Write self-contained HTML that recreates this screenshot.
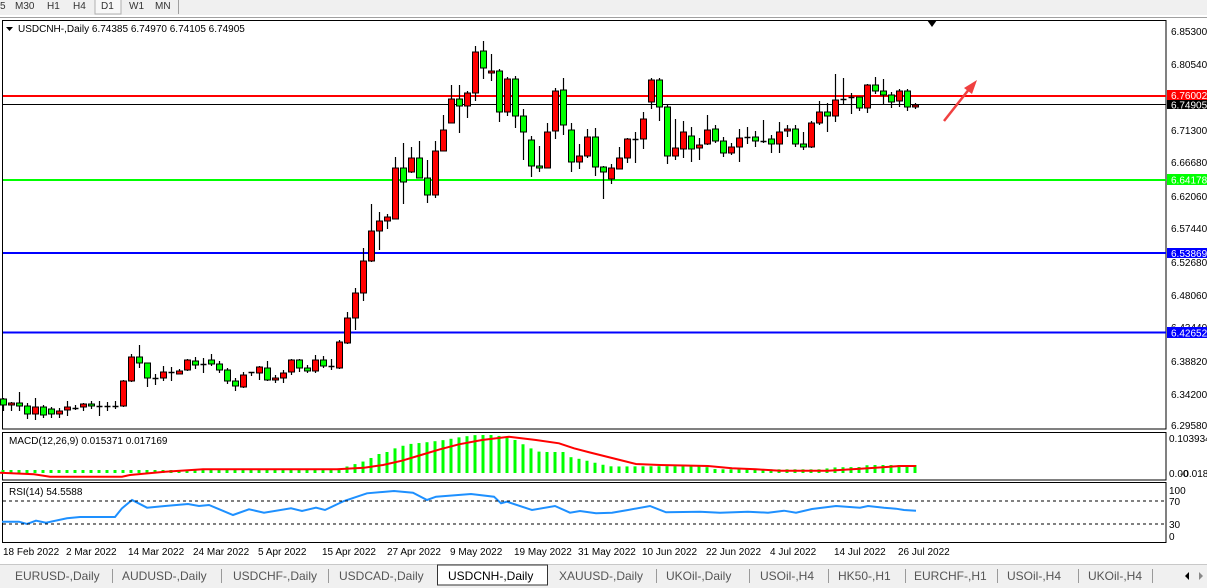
<!DOCTYPE html>
<html><head><meta charset="utf-8"><style>
html,body{margin:0;padding:0;background:#fff;width:1207px;height:588px;overflow:hidden}
svg{display:block;font-family:"Liberation Sans",sans-serif}
</style></head><body>
<svg id="s" width="1207" height="588" viewBox="0 0 1207 588" xmlns="http://www.w3.org/2000/svg">
<rect x="0" y="0" width="1207" height="588" fill="#fff"/>
<!-- toolbar -->
<rect x="0" y="0" width="1207" height="15" fill="#f0f0f0"/>
<line x1="0" y1="17.5" x2="1207" y2="17.5" stroke="#a0a0a0"/>
<rect x="95" y="-1" width="26" height="15" fill="#f8f8f8" stroke="#b0b0b0"/>
<line x1="178.5" y1="0" x2="178.5" y2="14" stroke="#a0a0a0"/>
<g font-size="10" fill="#333">
<text x="0" y="9">5</text><text x="15" y="9">M30</text><text x="47" y="9">H1</text><text x="73" y="9">H4</text>
<text x="101" y="9">D1</text><text x="129" y="9">W1</text><text x="155" y="9">MN</text></g>
<!-- panels -->
<rect x="2.5" y="20.5" width="1163.5" height="408.5" fill="none" stroke="#000"/>
<rect x="2.5" y="432.5" width="1163.5" height="47.5" fill="none" stroke="#000"/>
<rect x="2.5" y="482.5" width="1163.5" height="60" fill="none" stroke="#000"/>
<polygon points="927,20 937,20 932,27" fill="#000"/>
<text x="18" y="32" font-size="10" fill="#000">USDCNH-,Daily  6.74385 6.74970 6.74105 6.74905</text>
<polygon points="6,27 13,27 9.5,31" fill="#000"/>
<!-- levels -->
<line x1="3" y1="96" x2="1166" y2="96" stroke="#ff0000" stroke-width="2"/>
<line x1="3" y1="104.5" x2="1166" y2="104.5" stroke="#000" stroke-width="1"/>
<line x1="3" y1="180" x2="1166" y2="180" stroke="#00ff00" stroke-width="2"/>
<line x1="3" y1="253" x2="1166" y2="253" stroke="#0000ff" stroke-width="2"/>
<line x1="3" y1="332.5" x2="1166" y2="332.5" stroke="#0000ff" stroke-width="2"/>
<g id="candles"></g>
<g id="macd"></g>
<!-- right axis -->
<g font-size="10" fill="#000">
<text x="1171" y="35">6.85300</text><text x="1171" y="68">6.80540</text><text x="1171" y="134">6.71300</text>
<text x="1171" y="166">6.66680</text><text x="1171" y="200">6.62060</text><text x="1171" y="232">6.57440</text>
<text x="1171" y="266">6.52680</text><text x="1171" y="299">6.48060</text><text x="1171" y="331">6.43440</text>
<text x="1171" y="365">6.38820</text><text x="1171" y="398">6.34200</text><text x="1171" y="429">6.29580</text>
</g>
<rect x="1167" y="90" width="40" height="10" fill="#ff0000"/><text x="1171" y="99" font-size="10" fill="#fff">6.76002</text>
<rect x="1167" y="100" width="40" height="9" fill="#000"/><text x="1171" y="108.5" font-size="10" fill="#fff">6.74905</text>
<rect x="1167" y="174" width="40" height="11" fill="#00ff00"/><text x="1171" y="183.5" font-size="10" fill="#fff">6.64178</text>
<rect x="1167" y="248" width="40" height="10" fill="#0000ff"/><text x="1171" y="257" font-size="10" fill="#fff">6.53869</text>
<rect x="1167" y="327" width="40" height="11" fill="#0000ff"/><text x="1171" y="336.5" font-size="10" fill="#fff">6.42652</text>
<text x="9" y="444" font-size="10" fill="#000">MACD(12,26,9) 0.015371 0.017169</text>
<text x="1169" y="442" font-size="10" fill="#000">0.103934</text>
<text x="1169" y="477" font-size="10" fill="#000">0.00</text><text x="1180" y="477" font-size="10" fill="#000">-0.018297</text>
<rect x="1207" y="465" width="1" height="1"/>
<text x="9" y="495" font-size="10" fill="#000">RSI(14) 54.5588</text>
<line x1="3" y1="501" x2="1166" y2="501" stroke="#000" stroke-dasharray="3,3"/>
<line x1="3" y1="524" x2="1166" y2="524" stroke="#000" stroke-dasharray="3,3"/>
<g font-size="10" fill="#000"><text x="1169" y="494">100</text><text x="1169" y="505">70</text><text x="1169" y="528">30</text><text x="1169" y="540">0</text></g>
<!-- arrow -->
<line x1="944" y1="121" x2="970" y2="88" stroke="#f04040" stroke-width="2.5"/>
<polygon points="977,80 964,88 972,94" fill="#f04040"/>
<!-- dates -->
<g font-size="10" fill="#000">
<text x="3" y="555">18 Feb 2022</text><text x="66" y="555">2 Mar 2022</text><text x="128" y="555">14 Mar 2022</text>
<text x="193" y="555">24 Mar 2022</text><text x="258" y="555">5 Apr 2022</text><text x="322" y="555">15 Apr 2022</text>
<text x="387" y="555">27 Apr 2022</text><text x="450" y="555">9 May 2022</text><text x="514" y="555">19 May 2022</text>
<text x="578" y="555">31 May 2022</text><text x="642" y="555">10 Jun 2022</text><text x="706" y="555">22 Jun 2022</text>
<text x="770" y="555">4 Jul 2022</text><text x="834" y="555">14 Jul 2022</text><text x="898" y="555">26 Jul 2022</text>
</g>
<!-- tabs -->
<rect x="0" y="564" width="1207" height="24" fill="#f0f0f0"/>
<line x1="0" y1="564.5" x2="1207" y2="564.5" stroke="#c8c8c8"/>
<rect x="437.5" y="565" width="110" height="20" fill="#fff" stroke="#333"/>
<g font-size="12" fill="#555">
<text x="15" y="580">EURUSD-,Daily</text><text x="122" y="580">AUDUSD-,Daily</text><text x="233" y="580">USDCHF-,Daily</text>
<text x="339" y="580">USDCAD-,Daily</text><text x="448" y="580" fill="#000">USDCNH-,Daily</text><text x="559" y="580">XAUUSD-,Daily</text>
<text x="666" y="580">UKOil-,Daily</text><text x="760" y="580">USOil-,H4</text><text x="838" y="580">HK50-,H1</text>
<text x="914" y="580">EURCHF-,H1</text><text x="1007" y="580">USOil-,H4</text><text x="1088" y="580">UKOil-,H4</text>
</g>
<g stroke="#999"><line x1="112.5" y1="569" x2="112.5" y2="583"/><line x1="221.5" y1="569" x2="221.5" y2="583"/><line x1="328.5" y1="569" x2="328.5" y2="583"/>
<line x1="656.5" y1="569" x2="656.5" y2="583"/><line x1="749.5" y1="569" x2="749.5" y2="583"/><line x1="828.5" y1="569" x2="828.5" y2="583"/>
<line x1="905.5" y1="569" x2="905.5" y2="583"/><line x1="997.5" y1="569" x2="997.5" y2="583"/><line x1="1078.5" y1="569" x2="1078.5" y2="583"/><line x1="1152.5" y1="569" x2="1152.5" y2="583"/></g>
<polygon points="1185,576 1189,572 1189,580" fill="#000"/><polygon points="1203,576 1199,572 1199,580" fill="#888"/>
</svg>
<script>
var C=[
[399,405,398,411,'g'],[403,405,402,411,'r'],[403,406,392,411,'g'],[406,414,403,419,'g'],[407,414,398,420,'r'],
[407,415,405,418,'g'],[409,414,407,418,'g'],[411,414,408,418,'r'],[407,410,401,416,'r'],[408,409,405,410,'r'],
[404,407,403,411,'r'],[404,406,401,409,'g'],[406,406,401,416,'r'],[406,407,402,411,'r'],[406,407,401,409,'r'],
[381,406,380,407,'r'],[357,381,354,382,'r'],[357,363,345,368,'g'],[363,378,363,387,'g'],[378,379,374,385,'r'],
[372,378,366,381,'r'],[372,373,367,381,'r'],[371,374,369,374,'r'],[360,370,359,371,'r'],[361,365,357,369,'g'],
[364,365,358,373,'r'],[360,364,354,366,'g'],[364,370,361,373,'g'],[370,381,368,384,'g'],[381,386,378,391,'g'],
[375,387,372,388,'r'],[372,373,372,376,'r'],[367,373,366,380,'r'],[368,380,361,381,'g'],[378,380,375,383,'r'],
[373,378,370,383,'r'],[360,372,359,375,'r'],[360,368,359,372,'g'],[368,371,365,373,'g'],[360,371,355,373,'r'],
[360,366,356,368,'g'],[366,367,359,370,'r'],[342,368,340,369,'r'],[318,343,312,344,'r'],[293,318,288,330,'r'],
[261,293,248,301,'r'],[231,261,204,262,'r'],[221,231,212,250,'r'],[217,221,214,229,'r'],[168,219,157,219,'r'],
[168,182,143,204,'g'],[158,172,147,173,'r'],[158,178,141,178,'g'],[178,195,160,203,'g'],[151,195,141,198,'r'],
[130,151,115,151,'r'],[99,123,85,123,'r'],[99,106,85,133,'g'],[93,106,91,118,'r'],[52,93,46,101,'r'],
[51,68,41,79,'g'],[71,73,54,81,'r'],[71,112,69,122,'g'],[79,112,77,116,'r'],[79,116,76,128,'g'],
[116,132,109,160,'g'],[140,166,136,177,'g'],[166,168,146,172,'g'],[132,168,123,168,'r'],[91,131,88,139,'r'],
[90,125,78,135,'g'],[130,162,123,172,'g'],[156,162,144,169,'r'],[137,156,129,158,'r'],[137,167,128,176,'g'],
[167,172,166,199,'g'],[168,179,164,184,'r'],[158,169,147,169,'r'],[139,158,138,163,'r'],[139,140,132,163,'r'],
[119,139,112,149,'r'],[80,102,78,109,'r'],[80,107,78,121,'g'],[107,156,105,164,'g'],[148,156,119,160,'r'],
[132,149,121,158,'r'],[136,149,127,162,'g'],[145,148,138,160,'r'],[130,144,115,145,'r'],[129,141,125,143,'g'],
[141,153,137,157,'g'],[147,153,143,155,'r'],[138,147,129,162,'r'],[137,138,127,144,'r'],[137,141,131,147,'g'],
[141,141,120,143,'r'],[139,144,135,153,'g'],[132,144,122,153,'r'],[129,131,125,137,'r'],[129,144,125,147,'g'],
[144,147,132,150,'g'],[123,147,121,148,'r'],[112,123,101,125,'r'],[112,116,103,132,'g'],[100,116,74,122,'r'],
[99,100,78,105,'r'],[97,98,93,114,'r'],[97,108,97,111,'g'],[85,108,84,113,'r'],[85,91,77,94,'g'],
[91,95,79,105,'g'],[95,102,92,108,'g'],[91,101,89,107,'r'],[91,107,89,111,'g'],[105,107,103,109,'r']];
var NS='http://www.w3.org/2000/svg';
function el(p,t,a){var e=document.createElementNS(NS,t);for(var k in a)e.setAttribute(k,a[k]);p.appendChild(e);return e;}
var g=document.getElementById('candles'),m=document.getElementById('macd');
C.forEach(function(c,i){var x=Math.round(3.3+8*i)+0.5;
 el(g,'line',{x1:x,y1:c[2],x2:x,y2:c[3],stroke:'#000','stroke-width':1.2});
 var h=c[1]-c[0];
 if(h<1.5){el(g,'line',{x1:x-3,y1:c[0]+0.5,x2:x+3,y2:c[0]+0.5,stroke:'#000','stroke-width':1.5});}
 else el(g,'rect',{x:x-3,y:c[0],width:6,height:h,fill:c[4]=='r'?'#ff0000':'#00ff00',stroke:'#000','stroke-width':1});
});
function interp(P,x){if(x<=P[0][0])return P[0][1];for(var i=1;i<P.length;i++){if(x<=P[i][0]){var a=P[i-1],b=P[i];return a[1]+(b[1]-a[1])*(x-a[0])/(b[0]-a[0]);}}return P[P.length-1][1];}
var H=[[0,470],[330,470],[342,468],[352,465],[362,462],[371,458],[379,454],[387,452],[398,447],[410,444],[429,442],[444,440],[461,437],[476,435],[492,435],[507,437],[515,440],[530,448],[540,452],[563,452],[570,457],[580,459],[596,463],[604,465],[612,466.5],[700,466],[708,467.3],[716,469.3],[820,469.3],[836,467.3],[860,467],[868,465],[916,465]];
C.forEach(function(c,i){var x=Math.round(3.3+8*i);var t=interp(H,x);
 el(m,'rect',{x:x-1.5,y:t,width:3,height:Math.max(473-t,1),fill:'#00ff00'});});
var S=[[0,472.7],[34,474.3],[50,476.7],[122,476.7],[130,475],[165,471.7],[203,469.3],[337,469.3],[364,467.7],[383,465],[402,460.7],[421,455],[440,449.3],[459,444.3],[482,440],[509,436.7],[536,440],[559,443.3],[574,448.3],[590,452.5],[604,456],[620,460],[636,464],[660,465],[708,466],[732,468.3],[756,469.3],[780,470.7],[828,470.7],[852,469.3],[868,468.3],[900,466],[916,466]];
el(m,'polyline',{points:S.map(function(p){return p.join(',')}).join(' '),fill:'none',stroke:'#ff0000','stroke-width':2});
var R=[[2,521.7],[19,521.7],[27,524],[36,520.7],[46,522.7],[67,518.3],[80,517],[115,517],[122,508.3],[132,500],[147,507.7],[165,506],[188,504],[199,506],[209,505],[233,515],[249,509.3],[264,512.7],[291,508.3],[302,511],[316,507.7],[325,510],[344,501],[367,493.3],[394,491],[413,492.7],[427,500],[436,496.7],[471,494],[494,496.7],[501,503.3],[507,501.7],[532,510],[555,506],[570,512.7],[580,511],[596,513.3],[612,512.7],[628,510],[650,506],[666,512.3],[700,511.7],[720,512.7],[748,511.7],[768,512.7],[784,510.7],[796,512.7],[812,509],[836,506],[860,507.7],[868,506],[884,507.7],[896,508.7],[904,510],[916,510.7]];
el(m,'polyline',{points:R.map(function(p){return p.join(',')}).join(' '),fill:'none',stroke:'#1e90ff','stroke-width':2});
</script>
</body></html>
